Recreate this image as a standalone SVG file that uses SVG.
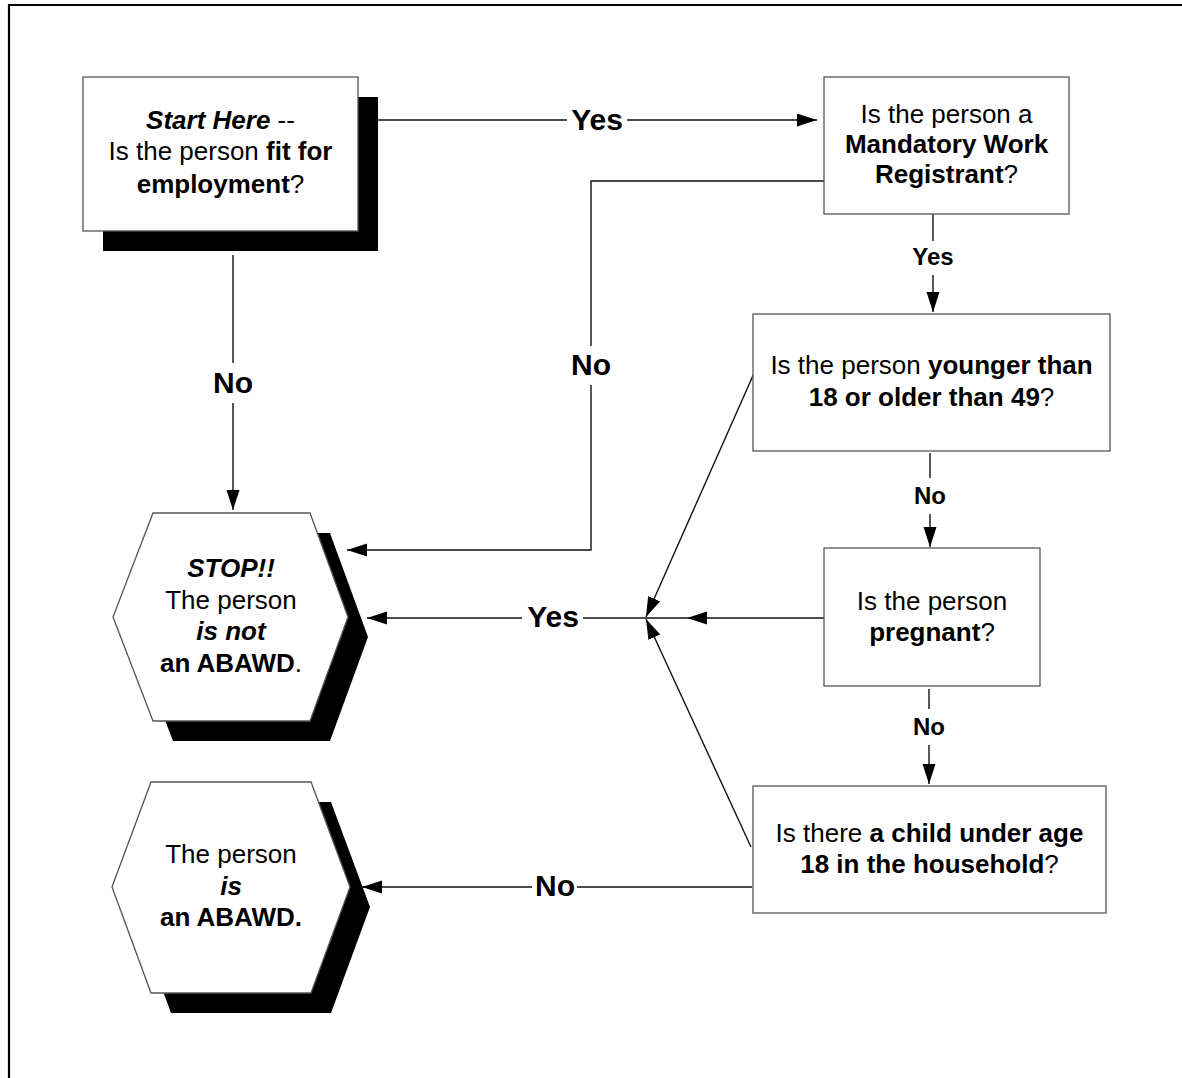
<svg xmlns="http://www.w3.org/2000/svg" width="1182" height="1078" viewBox="0 0 1182 1078">
<defs>
<marker id="arr" markerUnits="userSpaceOnUse" markerWidth="20" markerHeight="14" refX="20" refY="6.5" orient="auto">
<path d="M0,0 L20,6.5 L0,13 z" fill="#000"/>
</marker>
<style>
text{font-family:"Liberation Sans",Arial,sans-serif;fill:#000;text-anchor:middle}
.n{font-size:26px}
.b{font-weight:bold}
.i{font-style:italic}
.lbl{font-size:30px;font-weight:bold}
.sl{font-size:24px;font-weight:bold}
.box{fill:#fff;stroke:#555;stroke-width:1.3}
.sh{fill:#000}
.ln{fill:none;stroke:#111;stroke-width:1.4}
.ar{marker-end:url(#arr)}
</style>
</defs>
<rect width="1182" height="1078" fill="#fff"/>
<path d="M9,1078 V5 H1182" fill="none" stroke="#000" stroke-width="2.2"/>

<g id="connectors">
<line class="ln" x1="378" y1="120" x2="567" y2="120"/>
<line class="ln ar" x1="627" y1="120" x2="817" y2="120"/>
<text class="lbl" x="597" y="130">Yes</text>

<line class="ln" x1="233" y1="255" x2="233" y2="363"/>
<line class="ln ar" x1="233" y1="403" x2="233" y2="510"/>
<text class="lbl" x="233" y="393">No</text>

<polyline class="ln" points="824,181 591,181 591,346"/>
<polyline class="ln ar" points="591,385 591,550 347,550"/>
<text class="lbl" x="591" y="375">No</text>

<line class="ln" x1="933" y1="214" x2="933" y2="241"/>
<line class="ln ar" x1="933" y1="275" x2="933" y2="312"/>
<text class="sl" x="933" y="265">Yes</text>

<line class="ln" x1="930" y1="453" x2="930" y2="478"/>
<line class="ln ar" x1="930" y1="514" x2="930" y2="547"/>
<text class="sl" x="930" y="504">No</text>

<line class="ln" x1="929" y1="689" x2="929" y2="709"/>
<line class="ln ar" x1="929" y1="745" x2="929" y2="784"/>
<text class="sl" x="929" y="735">No</text>

<line class="ln ar" x1="755" y1="371" x2="646" y2="617"/>
<line class="ln ar" x1="751" y1="847" x2="646" y2="619"/>
<line class="ln ar" x1="824" y1="618" x2="687" y2="618"/>
<line class="ln" x1="687" y1="618" x2="646" y2="618"/>
<line class="ln" x1="646" y1="618" x2="583" y2="618"/>
<line class="ln ar" x1="522" y1="618" x2="367" y2="618"/>
<text class="lbl" x="553" y="627">Yes</text>

<line class="ln" x1="752" y1="887" x2="577" y2="887"/>
<line class="ln ar" x1="532" y1="887" x2="362" y2="887"/>
<text class="lbl" x="555" y="896">No</text>
</g>

<g id="start">
<rect class="sh" x="103" y="97" width="275" height="154"/>
<rect class="box" x="83" y="77" width="275" height="154"/>
<text class="n" x="220.5" y="129"><tspan class="b i">Start Here</tspan> --</text>
<text class="n" x="220.5" y="160">Is the person <tspan class="b">fit for</tspan></text>
<text class="n" x="220.5" y="193"><tspan class="b">employment</tspan>?</text>
</g>

<g id="mandatory">
<rect class="box" x="824" y="77" width="245" height="137"/>
<text class="n" x="946.5" y="123">Is the person a</text>
<text class="n b" x="946.5" y="153">Mandatory Work</text>
<text class="n" x="946.5" y="183"><tspan class="b">Registrant</tspan>?</text>
</g>

<g id="age">
<rect class="box" x="753" y="314" width="357" height="137"/>
<text class="n" x="931.5" y="374">Is the person <tspan class="b">younger than</tspan></text>
<text class="n" x="931.5" y="406"><tspan class="b">18 or older than 49</tspan>?</text>
</g>

<g id="pregnant">
<rect class="box" x="824" y="548" width="216" height="138"/>
<text class="n" x="932" y="610">Is the person</text>
<text class="n" x="932" y="641"><tspan class="b">pregnant</tspan>?</text>
</g>

<g id="child">
<rect class="box" x="753" y="786" width="353" height="127"/>
<text class="n" x="929.5" y="842">Is there <tspan class="b">a child under age</tspan></text>
<text class="n" x="929.5" y="873"><tspan class="b">18 in the household</tspan>?</text>
</g>

<g id="stop">
<polygon class="sh" points="173,533 330,533 368,637 330,741 173,741 133,637"/>
<polygon class="box" points="153,513 310,513 348,617 310,721 153,721 113,617"/>
<text class="n b i" x="231" y="577">STOP!!</text>
<text class="n" x="231" y="609">The person</text>
<text class="n b i" x="231" y="640">is not</text>
<text class="n" x="231" y="672"><tspan class="b">an ABAWD</tspan>.</text>
</g>

<g id="abawd">
<polygon class="sh" points="171,802 331,802 370,907 331,1013 171,1013 132,907"/>
<polygon class="box" points="151,782 311,782 350,887 311,993 151,993 112,887"/>
<text class="n" x="231" y="863">The person</text>
<text class="n b i" x="231" y="895">is</text>
<text class="n b" x="231" y="926">an ABAWD.</text>
</g>
</svg>
